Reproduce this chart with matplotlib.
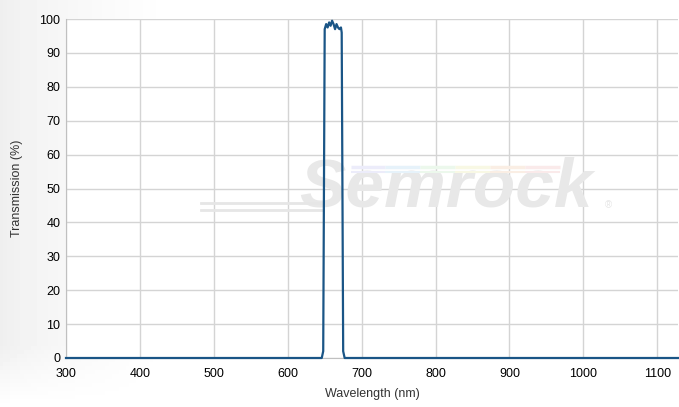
import numpy as np
import matplotlib
matplotlib.use('Agg')
import matplotlib.pyplot as plt

# transmission spectrum
wavelength = [300, 646, 648, 649, 650, 652, 654, 656, 658, 660, 662, 664,
              666, 668, 670, 672, 673, 674, 675, 677, 1130]
transmission = [0, 0, 2, 50, 97, 98.5, 97.5, 99, 98, 99.5, 98.5, 97,
                98.5, 97.5, 97, 97.5, 96, 50, 2, 0, 0]
x_ticks = [300, 400, 500, 600, 700, 800, 900, 1000, 1100]
y_ticks = [0, 10, 20, 30, 40, 50, 60, 70, 80, 90, 100]

plt.rcParams['font.family'] = ['Liberation Sans', 'DejaVu Sans']

fig = plt.figure(figsize=(6.79, 4.07), dpi=100)

# soft grey background on the left of the figure
bg = fig.add_axes([0, 0, 1, 1], zorder=-10)
gx = np.linspace(0, 1, 200)
gy = np.linspace(0, 1, 100)
X, Y = np.meshgrid(gx, gy)
shade = 0.935 + 0.065 * np.clip(X * 4, 0, 1) ** 0.7
shade = shade + (1 - shade) * np.clip((0.15 - Y) / 0.15, 0, 1)
bg.imshow(shade, cmap='gray', vmin=0, vmax=1, aspect='auto',
          extent=[0, 1, 0, 1], origin='lower')
bg.axis('off')

ax = fig.add_axes([66 / 679, 1 - 358 / 407, 612 / 679, 339 / 407])
ax.set_facecolor('white')

# watermark
ax.text(0.62, 0.50, 'Semrock', transform=ax.transAxes, fontsize=50,
        fontstyle='italic', fontweight='bold', color='#e8e8e8',
        ha='center', va='center', zorder=1)
ax.text(0.887, 0.45, '®', transform=ax.transAxes, fontsize=7,
        color='#e6e6e6', ha='center', va='center', zorder=1)
for yy in (0.437, 0.457):
    ax.plot([0.22, 0.42], [yy, yy], transform=ax.transAxes,
            color='#e6e6e6', lw=2, zorder=1)
rainbow = ['#ececfa', '#e6f2fa', '#ecf8ec', '#f8f8e4', '#faeee4', '#faeaea']
for i, c in enumerate(rainbow):
    x0 = 0.465 + i * 0.057
    ax.plot([x0, x0 + 0.057], [0.562, 0.562], transform=ax.transAxes,
            color=c, lw=2.5, zorder=1, solid_capstyle='butt')
    ax.plot([x0, x0 + 0.057], [0.548, 0.548], transform=ax.transAxes,
            color=c, lw=1.5, zorder=1, solid_capstyle='butt')

ax.plot(wavelength, transmission, color='#1a5586', lw=1.6, zorder=5,
        clip_on=False)

ax.set_xlim(300, 1128)
ax.set_ylim(0, 100)
ax.set_xticks(x_ticks)
ax.set_yticks(y_ticks)
ax.grid(True, color='#d4d4d4', lw=1, zorder=0)
ax.set_axisbelow(True)
for side in ('top', 'right'):
    ax.spines[side].set_visible(False)
for side in ('left', 'bottom'):
    ax.spines[side].set_color('#c0c0c0')
ax.tick_params(length=0, labelsize=9, colors='#000000')
ax.tick_params(axis='y', pad=4)
ax.tick_params(axis='x', pad=7)
ax.set_xlabel('Wavelength (nm)', fontsize=9, color='#333333', labelpad=6)
ax.set_ylabel('Transmission (%)', fontsize=9, color='#333333', labelpad=12)

fig.savefig('out.png', dpi=100)
